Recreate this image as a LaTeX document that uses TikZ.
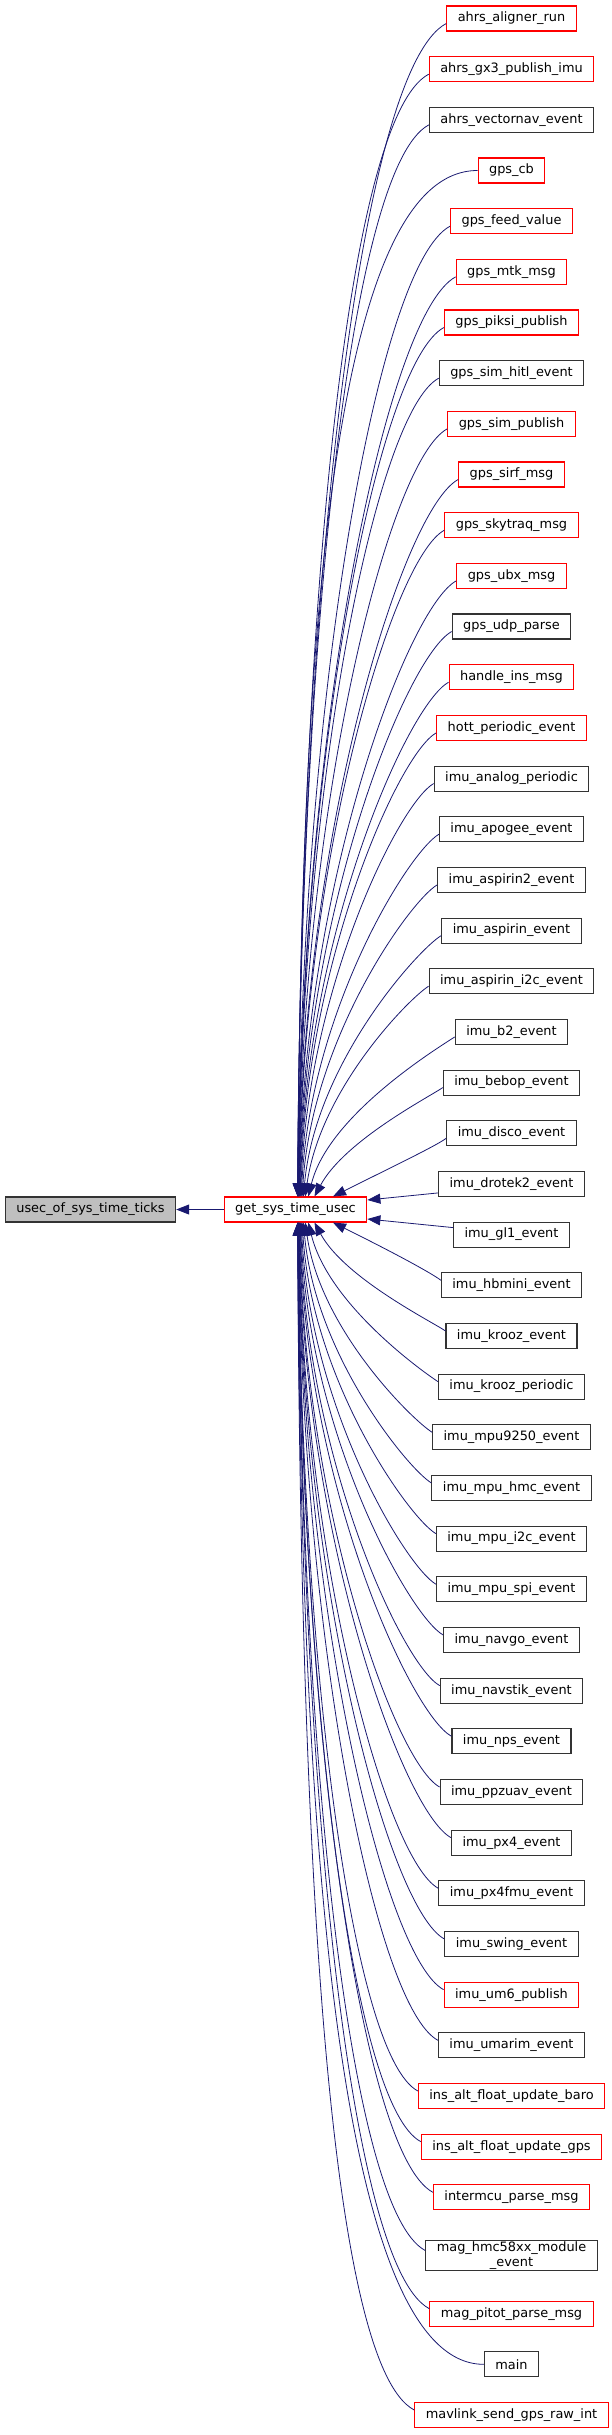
\documentclass[tikz,border=0pt]{standalone}
\usepackage{fontspec}
\setmainfont{DejaVu Sans}
\usetikzlibrary{arrows.meta}

\definecolor{edgeblue}{HTML}{191970}
\definecolor{rootgray}{HTML}{BFBFBF}

\begin{document}
\begin{tikzpicture}[x=1pt,y=-1pt,
  fn/.style={draw=black!80,fill=white,line width=1.1pt,inner xsep=11pt,inner ysep=1pt,
    minimum height=25pt,align=center,font=\fontsize{12.9}{15.5}\selectfont},
  edge/.style={draw=edgeblue,line width=0.8pt,-{Triangle[length=13pt,width=10pt]}}]
  % Marco
  \useasboundingbox (0,0) rectangle (612,2435);

  % Nodo raiz y funcion llamada
  \node[fn,fill=rootgray,draw=black!80] (root) at (90.5,1209.5) {usec\_of\_sys\_time\_ticks};
  \node[fn,draw=red] (get) at (295.5,1209.5) {get\_sys\_time\_usec};
  \draw[edge] (get) -- (root);

  % Funciones que llaman (columna derecha)
  \foreach \i/\lbl/\col in {
    1/ahrs\_aligner\_run/red,
    2/ahrs\_gx3\_publish\_imu/red,
    3/ahrs\_vectornav\_event/black!80,
    4/gps\_cb/red,
    5/gps\_feed\_value/red,
    6/gps\_mtk\_msg/red,
    7/gps\_piksi\_publish/red,
    8/gps\_sim\_hitl\_event/black!80,
    9/gps\_sim\_publish/red,
    10/gps\_sirf\_msg/red,
    11/gps\_skytraq\_msg/red,
    12/gps\_ubx\_msg/red,
    13/gps\_udp\_parse/black!80,
    14/handle\_ins\_msg/red,
    15/hott\_periodic\_event/red,
    16/imu\_analog\_periodic/black!80,
    17/imu\_apogee\_event/black!80,
    18/imu\_aspirin2\_event/black!80,
    19/imu\_aspirin\_event/black!80,
    20/imu\_aspirin\_i2c\_event/black!80,
    21/imu\_b2\_event/black!80,
    22/imu\_bebop\_event/black!80,
    23/imu\_disco\_event/black!80,
    24/imu\_drotek2\_event/black!80,
    25/imu\_gl1\_event/black!80,
    26/imu\_hbmini\_event/black!80,
    27/imu\_krooz\_event/black!80,
    28/imu\_krooz\_periodic/black!80,
    29/imu\_mpu9250\_event/black!80,
    30/imu\_mpu\_hmc\_event/black!80,
    31/imu\_mpu\_i2c\_event/black!80,
    32/imu\_mpu\_spi\_event/black!80,
    33/imu\_navgo\_event/black!80,
    34/imu\_navstik\_event/black!80,
    35/imu\_nps\_event/black!80,
    36/imu\_ppzuav\_event/black!80,
    37/imu\_px4\_event/black!80,
    38/imu\_px4fmu\_event/black!80,
    39/imu\_swing\_event/black!80,
    40/imu\_um6\_publish/red,
    41/imu\_umarim\_event/black!80,
    42/ins\_alt\_float\_update\_baro/red,
    43/ins\_alt\_float\_update\_gps/red,
    44/intermcu\_parse\_msg/red,
    45/mag\_hmc58xx\_module\\\_event/black!80,
    46/mag\_pitot\_parse\_msg/red,
    47/main/black!80,
    48/mavlink\_send\_gps\_raw\_int/red}
  {
    \pgfmathsetmacro\yy{18.5+(\i-1)*50.67+(\i>44)*7.5+(\i>45)*7.5}
    \node[fn,draw=\col] (c\i) at (511.5,\yy) {\lbl};
  }

  % Aristas desde arriba
  \foreach \i in {1,2,3,5,6,...,23} {
    \pgfmathsetmacro\k{24-\i}
    \pgfmathsetmacro\D{1197-(18.5+(\i-1)*50.67+5)}
    \pgfmathsetmacro\dx{0.5+37/\k}
    \pgfmathsetmacro\ax{5+0.07*\D}
    \pgfmathsetmacro\ay{5+0.035*\D}
    \pgfmathsetmacro\bx{60/\k}
    \pgfmathsetmacro\by{0.51*\D}
    \draw[edge] ([yshift=-5pt]c\i.west) .. controls +(-\ax,\ay) and +(\bx,-\by) .. ([xshift=\dx pt]get.north);
  }
  % gps_cb sale casi horizontal
  \draw[edge] (c4.west) .. controls +(-150,0) and +(3,-523) .. ([xshift=2.3pt]get.north);

  % Aristas casi rectas
  \draw[edge] ([yshift=-9pt]c24.west) -- ([yshift=9.5pt]get.east);
  \draw[edge] ([yshift=7pt]c25.west) -- ([yshift=-9.5pt]get.east);

  % Aristas desde abajo
  \foreach \i in {26,...,46,48} {
    \pgfmathsetmacro\k{\i-25}
    \pgfmathsetmacro\D{(18.5+(\i-1)*50.67+(\i>44)*7.5+(\i>45)*7.5-5)-1222}
    \pgfmathsetmacro\dx{0.5+37/\k}
    \pgfmathsetmacro\ax{5+0.07*\D}
    \pgfmathsetmacro\ay{5+0.035*\D}
    \pgfmathsetmacro\bx{60/\k}
    \pgfmathsetmacro\by{0.51*\D}
    \draw[edge] ([yshift=5pt]c\i.west) .. controls +(-\ax,-\ay) and +(\bx,\by) .. ([xshift=\dx pt]get.south);
  }
  % main sale casi horizontal
  \draw[edge] (c47.west) .. controls +(-150,0) and +(3,580) .. ([xshift=2.1pt]get.south);
\end{tikzpicture}
\end{document}
